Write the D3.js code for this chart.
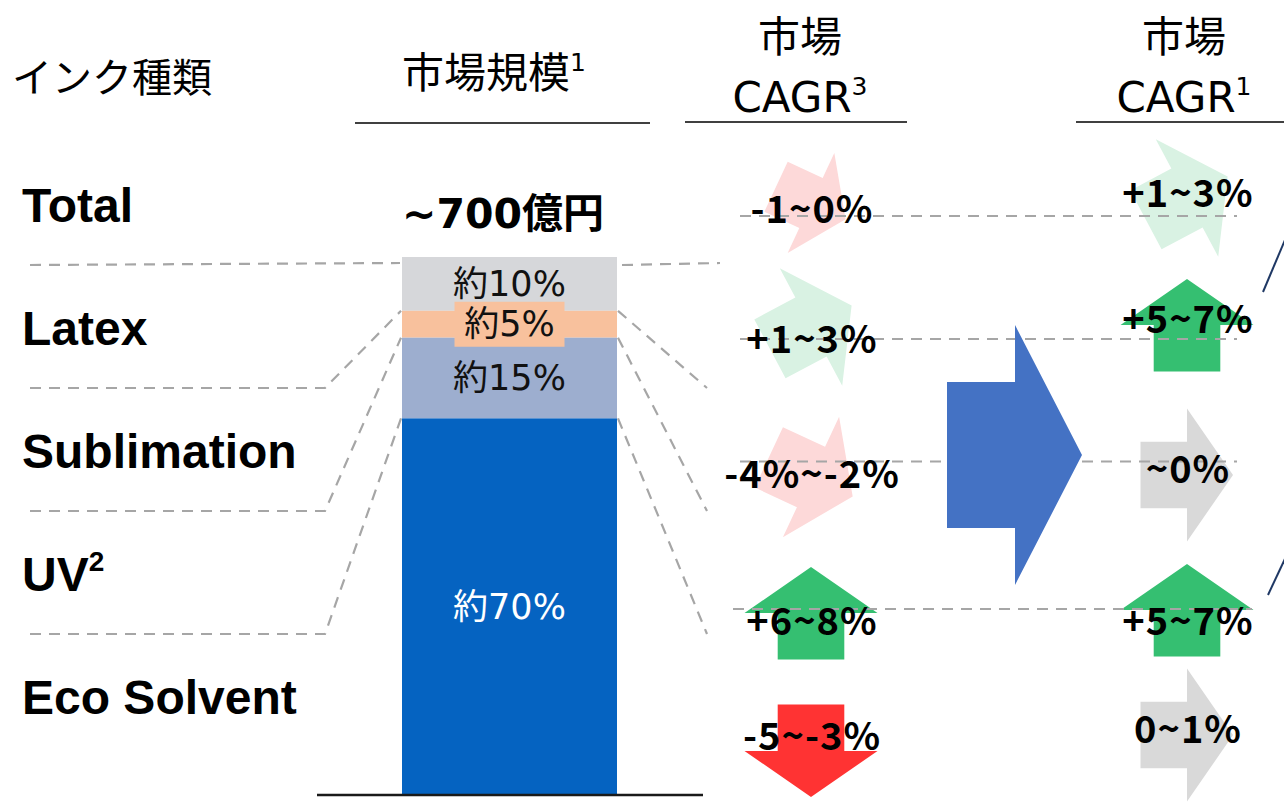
<!DOCTYPE html>
<html>
<head>
<meta charset="utf-8">
<script src="https://cdn.jsdelivr.net/npm/d3@7"></script>
<style>
  html, body { margin: 0; padding: 0; background: #fff; }
  svg { display: block; }
</style>
</head>
<body>
<svg id="chart" width="1284" height="802"></svg>
<script>
// ---------- data ----------
const rowLabels   = ["Total", "Latex", "Sublimation", "UV", "Eco Solvent"];
const rowNotes    = ["", "", "", "2", ""];
const inkTypes    = ["Latex", "Sublimation", "UV", "Eco Solvent"];
const marketShare = [10, 5, 15, 70];                 // % of total market
const shareLabels = ["約10%", "約5%", "約15%", "約70%"];
const totalSize   = "~700億円";

const pastLow     = [-1, 1, -4, 6, -5];              // CAGR range, %
const pastHigh    = [0, 3, -2, 8, -3];
const pastLabels  = ["-1~0%", "+1~3%", "-4%~-2%", "+6~8%", "-5~-3%"];

const futureLow    = [1, 5, 0, 5, 0];
const futureHigh   = [3, 7, 0, 7, 1];
const futureLabels = ["+1~3%", "+5~7%", "~0%", "+5~7%", "0~1%"];

const headerType   = "インク種類";
const headerSize   = ["市場規模", "1"];
const headerPast   = ["市場", "CAGR", "3"];
const headerFuture = ["市場", "CAGR", "1"];

// ---------- layout ----------
const svg = d3.select("#chart");
const JP = "'DejaVu Sans', 'Noto Sans CJK JP', sans-serif";
const JPB = "'Noto Sans CJK JP', sans-serif";
const EN = "'Liberation Sans', Arial, sans-serif";
const dashGrey = "#a6a6a6";

// row baselines for the left-hand labels
const yRow = d3.scalePoint().domain(rowLabels).range([222, 714]);
// boundary under each row (Total..UV)
const rowBoundary = rowLabels.slice(0, 4).map(r => yRow(r) + 43);

// stacked bar
const barX0 = 402, barX1 = 617;
const yBar = d3.scaleLinear().domain([0, 100]).range([795, 257]);
const segColor = d3.scaleOrdinal(inkTypes, ["#d6d7da", "#f8c19d", "#9daecf", "#0563c1"]);
const cumTop = marketShare.map((v, i) => 100 - d3.sum(marketShare.slice(0, i)));
const segs = inkTypes.map((k, i) => ({ key: k, top: cumTop[i], bottom: cumTop[i] - marketShare[i], label: shareLabels[i] }));

// CAGR arrows: direction derived from the midpoint of each range
const trend = d3.scaleThreshold().domain([-3.5, -0.25, 0.75, 4])
  .range(["down", "slightDown", "flat", "slightUp", "up"]);
const trendAngle = d3.scaleOrdinal(["down", "slightDown", "flat", "slightUp", "up"], [90, 25, 0, -28, -90]);
const trendColor = d3.scaleOrdinal(["down", "slightDown", "flat", "slightUp", "up"],
  ["#ff3333", "#fdd9d9", "#d9d9d9", "#d9f2e3", "#35bf71"]);

const colPast   = { x: 811,  arrowY: d3.scaleOrdinal(rowLabels, [203, 327, 477, 613, 751]),
                    textY: d3.scaleOrdinal(rowLabels, [223, 353, 488, 635, 750]),
                    scale: d3.scaleOrdinal(rowLabels, [0.83, 1, 1, 1, 1]) };
const colFuture = { x: 1187, arrowY: d3.scaleOrdinal(rowLabels, [198, 325, 475, 610, 735]),
                    textY: d3.scaleOrdinal(rowLabels, [207, 333, 483, 635, 743]),
                    scale: d3.scaleOrdinal(rowLabels, [1, 1, 1, 1, 1]) };

// block arrow outline pointing to +x, origin at the base of the head
const arrowPts = [[-46.5, -33.3], [0, -33.3], [0, -66.5], [46, 0], [0, 66.5], [0, 33.3], [-46.5, 33.3]];
const arrowPath = d3.line()(arrowPts) + "Z";

// ---------- headers ----------
svg.append("text").attr("x", 12).attr("y", 92)
  .attr("font-family", JP).attr("font-size", 40).attr("fill", "#000")
  .text(headerType);

function header(x, lines, yFirst) {
  const g = svg.append("g");
  if (lines.length === 2) {
    const t = g.append("text").attr("x", x).attr("y", yFirst).attr("text-anchor", "middle")
      .attr("font-family", JP).attr("font-size", 42).attr("fill", "#000");
    t.append("tspan").text(lines[0]);
    t.append("tspan").attr("font-size", 25).attr("dy", -17).text(lines[1]);
  } else {
    g.append("text").attr("x", x).attr("y", 52).attr("text-anchor", "middle")
      .attr("font-family", JP).attr("font-size", 42).attr("fill", "#000").text(lines[0]);
    const t = g.append("text").attr("x", x).attr("y", 112).attr("text-anchor", "middle")
      .attr("font-family", JP).attr("font-size", 42).attr("fill", "#000");
    t.append("tspan").text(lines[1]);
    t.append("tspan").attr("font-size", 25).attr("dy", -17).text(lines[2]);
  }
}
header(494, headerSize, 88);
header(800, headerPast);
header(1184, headerFuture);

const underlines = [[355, 650, 123], [685, 907, 122], [1076, 1284, 122]];
svg.selectAll("line.hdr").data(underlines).join("line").attr("class", "hdr")
  .attr("x1", d => d[0]).attr("x2", d => d[1]).attr("y1", d => d[2]).attr("y2", d => d[2])
  .attr("stroke", "#000").attr("stroke-width", 1.6);

// ---------- row labels ----------
const rowText = svg.selectAll("text.row").data(rowLabels).join("text").attr("class", "row")
  .attr("x", 22).attr("y", d => yRow(d))
  .attr("font-family", EN).attr("font-weight", "bold").attr("font-size", 48).attr("fill", "#000");
rowText.append("tspan").text(d => d);
rowText.append("tspan").attr("font-size", 28).attr("dy", -20).text((d, i) => rowNotes[i]);

// ---------- dashed connectors ----------
const dash = g => g.attr("fill", "none").attr("stroke", dashGrey).attr("stroke-width", 2.2).attr("stroke-dasharray", "11,8");
const leftPaths = inkTypes.map((k, i) => i === 0
  ? [[30, rowBoundary[0]], [400, rowBoundary[0] - 2]]
  : [[30, rowBoundary[i]], [325, rowBoundary[i]], [401, yBar(cumTop[i])]]);
const rightPaths = inkTypes.map((k, i) => i === 0
  ? [[622, rowBoundary[0]], [720, rowBoundary[0] - 2]]
  : [[618, yBar(cumTop[i])], [707, rowBoundary[i]]]);
svg.selectAll("path.conn").data(leftPaths.concat(rightPaths)).join("path").attr("class", "conn")
  .attr("d", d3.line()).call(dash);

// ---------- stacked bar ----------
svg.selectAll("rect.seg").data(segs).join("rect").attr("class", "seg")
  .attr("x", barX0).attr("width", barX1 - barX0)
  .attr("y", d => yBar(d.top)).attr("height", d => yBar(d.bottom) - yBar(d.top))
  .attr("fill", d => segColor(d.key));

const barMid = (barX0 + barX1) / 2;
// label plate for the thin segment
const thin = segs[1];
svg.append("rect").attr("x", barMid - 55).attr("width", 110)
  .attr("y", (yBar(thin.top) + yBar(thin.bottom)) / 2 - 22.5).attr("height", 45)
  .attr("fill", segColor(thin.key));

svg.selectAll("text.share").data(segs).join("text").attr("class", "share")
  .attr("x", barMid).attr("y", d => (yBar(d.top) + yBar(d.bottom)) / 2 + 12)
  .attr("text-anchor", "middle").attr("font-family", JP).attr("font-size", 35)
  .attr("fill", (d, i) => i === 3 ? "#fff" : "#111")
  .text(d => d.label);

svg.append("line").attr("x1", 317).attr("x2", 703).attr("y1", yBar(0)).attr("y2", yBar(0))
  .attr("stroke", "#1a1a1a").attr("stroke-width", 2.6);

svg.append("text").attr("x", 503).attr("y", 228).attr("text-anchor", "middle")
  .attr("font-family", JP).attr("font-weight", "bold").attr("font-size", 41).attr("fill", "#000")
  .text(totalSize);

// ---------- CAGR arrows ----------
function arrows(col, lows, highs, cls) {
  const data = rowLabels.map((r, i) => ({ row: r, t: trend((lows[i] + highs[i]) / 2) }));
  svg.selectAll("path." + cls).data(data).join("path").attr("class", cls)
    .attr("d", arrowPath)
    .attr("transform", d => `translate(${col.x},${col.arrowY(d.row)}) rotate(${trendAngle(d.t)}) scale(${col.scale(d.row)})`)
    .attr("fill", d => trendColor(d.t));
}
arrows(colPast, pastLow, pastHigh, "arrPast");
arrows(colFuture, futureLow, futureHigh, "arrFuture");

// guide lines across the CAGR columns
const guides = [[740, 1237, 216], [740, 1237, 339], [740, 1237, 461.5], [733, 1252, 609]];
svg.selectAll("line.guide").data(guides).join("line").attr("class", "guide")
  .attr("x1", d => d[0]).attr("x2", d => d[1]).attr("y1", d => d[2]).attr("y2", d => d[2])
  .call(dash);

// transition arrow between the two CAGR columns
const bigArrow = [[947, 382], [1015, 382], [1015, 325], [1082, 455], [1015, 585], [1015, 528], [947, 528]];
svg.append("path").attr("d", d3.line()(bigArrow) + "Z").attr("fill", "#4472c4");

// CAGR labels
function cagrLabels(col, labels, cls) {
  svg.selectAll("text." + cls).data(rowLabels).join("text").attr("class", cls)
    .attr("x", col.x + 1).attr("y", d => col.textY(d)).attr("text-anchor", "middle")
    .attr("font-family", JPB).attr("font-weight", "bold").attr("font-size", 38)
    .attr("letter-spacing", 1).attr("fill", "#000")
    .text((d, i) => labels[i]);
}
cagrLabels(colPast, pastLabels, "lblPast");
cagrLabels(colFuture, futureLabels, "lblFuture");

// connector strokes running off the right edge
const edge = [[[1263, 292], [1290, 228]], [[1268, 595], [1290, 548]]];
svg.selectAll("path.edge").data(edge).join("path").attr("class", "edge")
  .attr("d", d3.line()).attr("stroke", "#1f3864").attr("stroke-width", 2).attr("fill", "none");
</script>
</body>
</html>
